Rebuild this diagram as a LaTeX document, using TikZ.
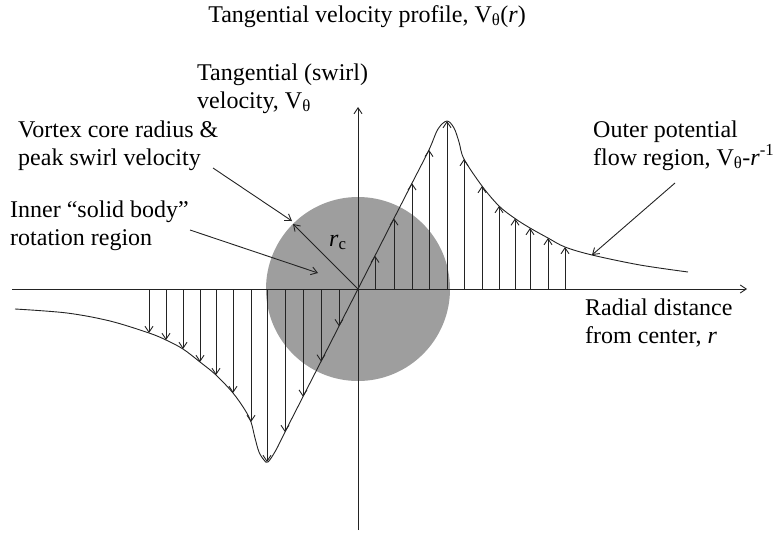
\documentclass[tikz,border=0pt]{standalone}
\usepackage{fontspec}
\setmainfont{Liberation Serif}
\usetikzlibrary{arrows.meta}
\definecolor{coregray}{RGB}{158,158,158}
\definecolor{ink}{RGB}{35,35,35}
\begin{document}
\begin{tikzpicture}[x=1pt,y=-1pt,
  lbl/.style={font=\fontsize{24}{28}\selectfont, inner sep=0pt, align=left, anchor=base west},
  ln/.style={draw=ink, line width=0.9pt},
  arr/.style={ln, -{Straight Barb[length=6pt,width=8pt]}},
]
\useasboundingbox (0,0) rectangle (774,533);
% core circle
\coordinate (O) at (358,289);
\fill[coregray] (O) circle[radius=92];
% axes
\coordinate (xl) at (12,289);
\coordinate (xr) at (747,289);
\coordinate (yb) at (358,530);
\coordinate (yt) at (358,107);
\draw[arr] (xl) -- (xr);
\draw[arr] (yb) -- (yt);
% profile curves
\draw[ln] plot[smooth, tension=0.55] coordinates {(358,289) (375,255.7) (394,218.4) (412,183.2) (429,149.8) (438,129) (447,121) (454,128) (459,142) (464,159) (482,186) (499,206) (515,218.5) (530,228) (548,238) (565,247) (592,255) (640,265) (688,272)};
\draw[ln] plot[smooth, tension=0.55] coordinates {(15,309) (67,313) (110,321) (149,333) (166,340) (183,349) (200,362) (216,375) (233,393) (245,410) (251,422) (255,438) (259,452) (264,460) (268,462) (276,450) (285,432) (303,396.7) (321,361.5) (339,326.2) (358,289)};
% velocity arrows
\foreach \x/\y in {375/255.7, 394/218.4, 412/183.2, 429/149.8, 447/121, 464/159, 482/186, 499/206, 515/218.5, 530/228, 548/238, 565/247,
                   149/333, 166/340, 183/349, 200/362, 216/375, 233/393, 251/422, 267/462, 285/432, 303/396.7, 321/361.5, 339/326.2}
  \draw[arr] (\x,289) -- (\x,\y);
% labels (base anchor = baseline of last line)
\node[lbl, anchor=base] (title) at (367,22) {Tangential velocity profile, V\textsubscript{θ}(\textit{r})};
\node[lbl] (yl) at (197,108) {Tangential (swirl)\\velocity, V\textsubscript{θ}};
\node[lbl] (vc) at (18,165) {Vortex core radius \&\\peak swirl velocity};
\node[lbl] (inner) at (10,245) {Inner “solid body”\\rotation region};
\node[lbl] (outer) at (593,165) {Outer potential\\flow region, V\textsubscript{θ}-\textit{r}\textsuperscript{-1}};
\node[lbl] (xlab) at (585,343) {Radial distance\\from center, \textit{r}};
\node[lbl] (rc) at (329,246) {\textit{r}\textsubscript{c}};
% leaders
\coordinate (vcS) at (213,168);
\coordinate (vcE) at (292,221);
\coordinate (rcE) at (293,224);
\coordinate (inS) at (190,230);
\coordinate (inE) at (318,273);
\coordinate (ouS) at (675,183);
\coordinate (ouE) at (592,255);
\draw[arr] (vcS) -- (vcE);
\draw[arr] (O) -- (rcE);
\draw[arr] (inS) -- (inE);
\draw[arr] (ouS) -- (ouE);
\end{tikzpicture}
\end{document}
